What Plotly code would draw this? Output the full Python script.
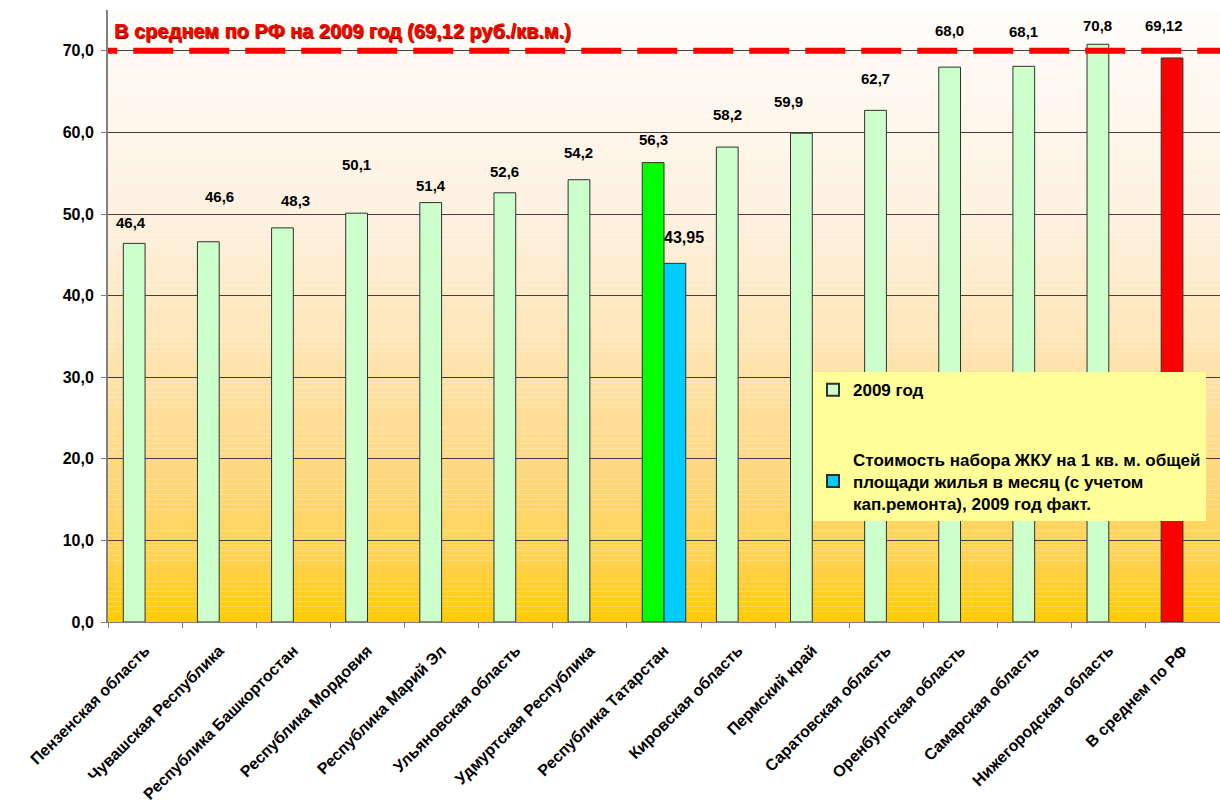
import plotly.graph_objects as go

# ---- data ----
regions = [
    "Пензенская область",
    "Чувашская Республика",
    "Республика Башкортостан",
    "Республика Мордовия",
    "Республика Марий Эл",
    "Ульяновская область",
    "Удмуртская Республика",
    "Республика Татарстан",
    "Кировская область",
    "Пермский край",
    "Саратовская область",
    "Оренбургская область",
    "Самарская область",
    "Нижегородская область",
    "В среднем по РФ",
]
values_2009 = [46.4, 46.6, 48.3, 50.1, 51.4, 52.6, 54.2, 56.3, 58.2, 59.9, 62.7, 68.0, 68.1, 70.8, 69.12]
label_2009 = ["46,4", "46,6", "48,3", "50,1", "51,4", "52,6", "54,2", "56,3", "58,2", "59,9",
              "62,7", "68,0", "68,1", "70,8", "69,12"]
fact_values = [None, None, None, None, None, None, None, 43.95, None, None, None, None, None, None, None]
fact_labels = ["", "", "", "", "", "", "", "43,95", "", "", "", "", "", "", ""]
rf_average = 69.12
series_names = ["2009 год",
                "Стоимость набора ЖКУ на 1 кв. м. общей<br>площади жилья в месяц (с учетом<br>кап.ремонта), 2009 год факт."]
title_text = "В среднем по РФ на 2009 год (69,12 руб./кв.м.)"

# ---- styles ----
FONT = "Liberation Sans, Arial, sans-serif"
bar_colors = ["#CCFFCC"] * 7 + ["#00FF00"] + ["#CCFFCC"] * 6 + ["#FF0000"]
label_yshift = [19, 44, 26, 47, 16, 20, 26, 22, 31, 30, 30, 35, 33, 17, 31]
label_xshift = [-14, 0, 2, -11, -11, -11, -11, -11, -11, -24, -11, -11, -11, -11, -19]
grad_stops = [(0.0, (255, 253, 250)), (0.35, (253, 240, 222)), (0.55, (254, 229, 180)),
              (0.75, (254, 217, 130)), (0.9, (255, 210, 80)), (1.0, (255, 204, 0))]

def grad_color(t):
    for (t0, c0), (t1, c1) in zip(grad_stops[:-1], grad_stops[1:]):
        if t0 <= t <= t1:
            f = (t - t0) / (t1 - t0)
            return "rgb(%d,%d,%d)" % tuple(round(a + (b - a) * f) for a, b in zip(c0, c1))
    return "rgb(%d,%d,%d)" % grad_stops[-1][1]

fig = go.Figure()
fig.add_trace(go.Bar(
    x=regions, y=values_2009, name=series_names[0],
    marker=dict(color=bar_colors, line=dict(color="#303030", width=1)),
    legendgroup="a",
))
fig.add_trace(go.Bar(
    x=regions, y=fact_values, name=series_names[1],
    marker=dict(color="#00CCFF", line=dict(color="#303030", width=1)),
    legendgroup="b",
))

shapes = []
N = 120
for i in range(N):
    y0 = 1 - i / N
    y1 = 1 - (i + 1) / N
    shapes.append(dict(type="rect", xref="paper", yref="paper", x0=0, x1=1, y0=y1, y1=y0,
                       fillcolor=grad_color((i + 0.5) / N), line=dict(width=0), layer="below"))
# average line (dash phase shifted to start left of the axis; clipped to the plot area)
shapes.append(dict(type="line", xref="x", yref="y", x0=-0.915, x1=len(regions) - 0.3,
                   y0=70, y1=70,
                   line=dict(color="#FF0000", width=6, dash="40px,16px"), layer="above"))
fig.update_layout(shapes=shapes)

annotations = []
for i, (r, v, t) in enumerate(zip(regions, values_2009, label_2009)):
    annotations.append(dict(x=r, y=v, xref="x", yref="y", text=t, showarrow=False,
                            yanchor="bottom", yshift=label_yshift[i] - 9, xshift=label_xshift[i],
                            font=dict(family=FONT, size=15, color="black", weight="bold")))
for r, v, t in zip(regions, fact_values, fact_labels):
    if v is not None:
        annotations.append(dict(x=r, y=v, xref="x", yref="y", text=t, showarrow=False,
                                yanchor="bottom", yshift=15, xshift=20,
                                font=dict(family=FONT, size=16, color="black", weight="bold")))
annotations.append(dict(x=0.004, y=(622 - 31) / 612, xref="paper", yref="paper", text=title_text,
                        showarrow=False, xanchor="left", yanchor="middle",
                        font=dict(family=FONT, size=20, color="#FF0000", weight="bold",
                                  shadow="1px 1px 1px #400000")))
fig.update_layout(annotations=annotations)

fig.update_layout(
    width=1220, height=802,
    margin=dict(l=108, r=0, t=10, b=180),
    paper_bgcolor="white", plot_bgcolor="rgba(0,0,0,0)",
    barmode="group", bargap=0.413, bargroupgap=0,
    font=dict(family=FONT, color="black"),
    separators=", ",
    showlegend=True,
    legend=dict(x=0.634, y=0.408, xanchor="left", yanchor="top",
                bgcolor="#FFFF99", borderwidth=0,
                traceorder="grouped", tracegroupgap=44, itemsizing="constant",
                font=dict(family=FONT, size=17, color="black", weight="bold")),
    xaxis=dict(type="category", range=[-0.5, len(regions) - 0.5], autorange=False,
               tickangle=-45, showline=True, linecolor="#808080",
               ticks="outside", ticklen=5, tickcolor="#808080", showgrid=False,
               tickson="boundaries", automargin=False, ticklabelstandoff=12,
               tickfont=dict(family=FONT, size=16, color="black", weight="bold")),
    yaxis=dict(range=[0, 75], tickvals=[0, 10, 20, 30, 40, 50, 60, 70], tickformat=".1f",
               showline=True, linecolor="#808080", linewidth=2, ticks="outside", ticklen=5,
               tickcolor="#808080", showgrid=True, gridcolor="#404040", gridwidth=1,
               zeroline=False, automargin=False, ticklabelstandoff=4,
               tickfont=dict(family=FONT, size=16, color="black", weight="bold")),
)

fig.write_html("out.html", config={"displayModeBar": False},
               post_script="document.body.style.margin='0';")
